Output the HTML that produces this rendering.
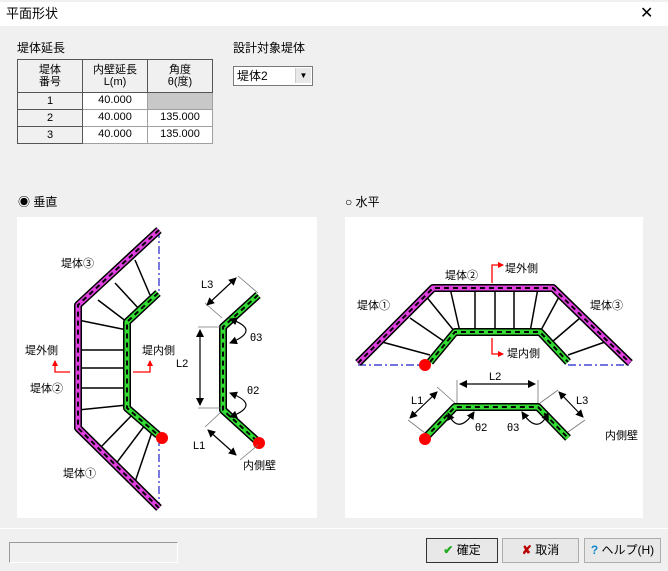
<!DOCTYPE html>
<html><head><meta charset="utf-8"><style>
body{margin:0;width:668px;height:571px;background:#f0f0f0;font-family:"Liberation Sans","Noto Sans CJK JP",sans-serif;font-size:12px;color:#000;position:relative;overflow:hidden;line-height:1.2}
.a{position:absolute}
table{border-collapse:collapse;position:absolute;left:17px;top:59px}
td{border:1px solid #a0a0a0;text-align:center;font-size:11px;padding:0;height:16px;background:#fff}
td.h{background:#f0f0f0;border:1px solid #555;line-height:12px}
.btn{position:absolute;top:538px;height:23px;border:1px solid #adadad;background:#e8e8e8;font-size:12px;line-height:23px;text-align:center}
</style></head><body>
<div class="a" style="left:0;top:2px;width:668px;height:24px;background:#fff"></div>
<div class="a" style="left:6px;top:6px;font-size:13px">平面形状</div>
<div class="a" style="left:640px;top:4px;font-size:16px">✕</div>
<div class="a" style="left:17px;top:41px">堤体延長</div>
<div class="a" style="left:233px;top:41px">設計対象堤体</div>
<table>
<tr><td class="h" style="width:64px;height:32px">堤体<br>番号</td><td class="h" style="width:64px">内壁延長<br>L(m)</td><td class="h" style="width:64px">角度<br>θ(度)</td></tr>
<tr><td class="h">1</td><td>40.000</td><td style="background:#c8c8c8"></td></tr>
<tr><td class="h">2</td><td>40.000</td><td>135.000</td></tr>
<tr><td class="h">3</td><td>40.000</td><td>135.000</td></tr>
</table>
<div class="a" style="left:233px;top:66px;width:78px;height:18px;background:#fff;border:1px solid #7a7a7a"><span style="position:absolute;left:3px;top:2px">堤体2</span><div class="a" style="right:1px;top:1px;width:15px;height:15px;background:#e8e8e8;border-left:1px solid #ccc;text-align:center;font-size:8px;line-height:15px">▼</div></div>
<div class="a" style="left:18px;top:195px">◉ 垂直</div>
<div class="a" style="left:345px;top:195px">○ 水平</div>
<div class="a" style="left:17px;top:217px;width:300px;height:301px;background:#fff"></div>
<div class="a" style="left:345px;top:217px;width:298px;height:301px;background:#fff"></div>
<svg class="a" style="left:0;top:0" width="668" height="571" font-family="Liberation Sans,Noto Sans CJK JP,sans-serif" font-size="11">
<defs><marker id="ar" markerUnits="userSpaceOnUse" markerWidth="8" markerHeight="8" refX="7" refY="4" orient="auto-start-reverse"><path d="M0,0L8,4L0,8z" fill="#000"/></marker>
<marker id="rr" markerUnits="userSpaceOnUse" markerWidth="6" markerHeight="6" refX="5" refY="3" orient="auto"><path d="M0,0L6,3L0,6z" fill="red"/></marker></defs>
<g stroke="#000" stroke-width="1.5">
<line x1="78" y1="320" x2="127" y2="330"/><line x1="78" y1="350" x2="127" y2="350"/><line x1="78" y1="368" x2="127" y2="368"/><line x1="78" y1="388" x2="127" y2="388"/><line x1="78" y1="410" x2="127" y2="405"/>
<line x1="98" y1="300" x2="127" y2="322"/><line x1="115" y1="283" x2="140" y2="310"/><line x1="135" y1="260" x2="150" y2="295"/>
<line x1="100" y1="448" x2="132" y2="415"/><line x1="115" y1="465" x2="145" y2="425"/><line x1="135" y1="482" x2="152" y2="432"/>
<line x1="382" y1="342" x2="430" y2="355"/><line x1="410" y1="318" x2="445" y2="342"/><line x1="425" y1="295" x2="455" y2="332"/>
<line x1="450" y1="288" x2="460" y2="332"/><line x1="475" y1="288" x2="475" y2="332"/><line x1="495" y1="288" x2="495" y2="332"/><line x1="514" y1="288" x2="514" y2="332"/><line x1="538" y1="288" x2="530" y2="332"/>
<line x1="560" y1="295" x2="540" y2="332"/><line x1="580" y1="318" x2="552" y2="342"/><line x1="605" y1="342" x2="568" y2="355"/>
</g>
<g stroke="#2222cc" stroke-width="1.2" stroke-dasharray="8 3 2 3" fill="none">
<line x1="159" y1="230" x2="159" y2="293"/><line x1="159" y1="438" x2="159" y2="508"/>
<line x1="358" y1="365" x2="425" y2="365"/><line x1="568" y1="365" x2="630" y2="365"/>
</g>
<g fill="none" stroke-linejoin="round">
<polyline points="159,230 78,305 78,428 159,508" stroke="#000" stroke-width="8"/>
<polyline points="159,230 78,305 78,428 159,508" stroke="#e040e0" stroke-width="5"/>
<polyline points="159,230 78,305 78,428 159,508" stroke="#000" stroke-width="2" stroke-dasharray="5 4"/>
<polyline points="358,363 433,288 553,288 630,363" stroke="#000" stroke-width="8"/>
<polyline points="358,363 433,288 553,288 630,363" stroke="#e040e0" stroke-width="5"/>
<polyline points="358,363 433,288 553,288 630,363" stroke="#000" stroke-width="2" stroke-dasharray="5 4"/>
<polyline points="158,293 127,322 127,408 158,435" stroke="#000" stroke-width="8"/>
<polyline points="158,293 127,322 127,408 158,435" stroke="#33dd33" stroke-width="5"/>
<polyline points="158,293 127,322 127,408 158,435" stroke="#000" stroke-width="2" stroke-dasharray="5 4"/>
<polyline points="258,295 223,327 223,410 258,442" stroke="#000" stroke-width="8"/>
<polyline points="258,295 223,327 223,410 258,442" stroke="#33dd33" stroke-width="5"/>
<polyline points="258,295 223,327 223,410 258,442" stroke="#000" stroke-width="2" stroke-dasharray="5 4"/>
<polyline points="430,362 455,332 540,332 568,362" stroke="#000" stroke-width="8"/>
<polyline points="430,362 455,332 540,332 568,362" stroke="#33dd33" stroke-width="5"/>
<polyline points="430,362 455,332 540,332 568,362" stroke="#000" stroke-width="2" stroke-dasharray="5 4"/>
<polyline points="425,438 455,407 538,407 568,438" stroke="#000" stroke-width="8"/>
<polyline points="425,438 455,407 538,407 568,438" stroke="#33dd33" stroke-width="5"/>
<polyline points="425,438 455,407 538,407 568,438" stroke="#000" stroke-width="2" stroke-dasharray="5 4"/>
</g>
<g fill="red"><circle cx="162" cy="438" r="6"/><circle cx="259" cy="443" r="6"/><circle cx="425" cy="365" r="6"/><circle cx="425" cy="439" r="6"/></g>
<g stroke="red" stroke-width="1.3" fill="none">
<polyline points="70,372 55,372 55,361" marker-end="url(#rr)"/>
<polyline points="133,372 150,372 150,361" marker-end="url(#rr)"/>
<polyline points="492,283 492,265 503,265" marker-end="url(#rr)"/>
<polyline points="492,338 492,354 503,354" marker-end="url(#rr)"/>
</g>
<g stroke="#777" stroke-width="0.8">
<line x1="198" y1="327" x2="222" y2="327"/><line x1="198" y1="408" x2="222" y2="408"/>
<line x1="222" y1="318" x2="205" y2="303"/><line x1="238" y1="276" x2="258" y2="293"/>
<line x1="220" y1="413" x2="205" y2="427"/><line x1="258" y1="445" x2="240" y2="460"/>
<line x1="457" y1="380" x2="457" y2="403"/><line x1="538" y1="380" x2="538" y2="403"/>
<line x1="437" y1="387" x2="455" y2="403"/><line x1="408" y1="420" x2="425" y2="433"/>
<line x1="540" y1="403" x2="558" y2="390"/><line x1="568" y1="432" x2="585" y2="420"/>
</g>
<g stroke="#000" stroke-width="1.2" fill="none">
<line x1="200" y1="330" x2="200" y2="405" marker-end="url(#ar)" marker-start="url(#ar)"/>
<line x1="207" y1="305" x2="236" y2="278" marker-end="url(#ar)" marker-start="url(#ar)"/>
<line x1="208" y1="430" x2="236" y2="455" marker-end="url(#ar)" marker-start="url(#ar)"/>
<line x1="460" y1="384" x2="535" y2="384" marker-end="url(#ar)" marker-start="url(#ar)"/>
<line x1="410" y1="418" x2="437" y2="392" marker-end="url(#ar)" marker-start="url(#ar)"/>
<line x1="559" y1="392" x2="583" y2="417" marker-end="url(#ar)" marker-start="url(#ar)"/>
<path d="M230,319 Q262,330 230,343" marker-end="url(#ar)" marker-start="url(#ar)"/>
<path d="M230,393 Q262,405 230,417" marker-end="url(#ar)" marker-start="url(#ar)"/>
<path d="M448,413 Q458,436 474,412" marker-end="url(#ar)" marker-start="url(#ar)"/>
<path d="M522,412 Q538,436 548,413" marker-end="url(#ar)" marker-start="url(#ar)"/>
</g>
<g fill="#000">
<text x="61" y="267">堤体③</text><text x="25" y="354">堤外側</text><text x="30" y="392">堤体②</text>
<text x="142" y="354">堤内側</text><text x="63" y="477">堤体①</text>
<text x="201" y="288">L3</text><text x="176" y="367">L2</text><text x="193" y="449">L1</text>
<text x="243" y="469">内側壁</text><text x="250" y="341">θ3</text><text x="247" y="394">θ2</text>
<text x="445" y="279">堤体②</text><text x="505" y="272">堤外側</text><text x="507" y="357">堤内側</text>
<text x="357" y="309">堤体①</text><text x="590" y="309">堤体③</text>
<text x="489" y="380">L2</text><text x="411" y="404">L1</text><text x="576" y="404">L3</text>
<text x="475" y="431">θ2</text><text x="507" y="431">θ3</text><text x="605" y="439">内側壁</text>
</g>
</svg>
<div class="a" style="left:0;top:528px;width:668px;height:1px;background:#fff"></div>
<div class="a" style="left:9px;top:542px;width:167px;height:19px;border-top:1px solid #999;border-left:1px solid #999;border-right:1px solid #fff;border-bottom:1px solid #fff"></div>
<div class="btn" style="left:426px;width:70px;border:1px solid #333"><span style="color:#2a2;font-weight:bold">✔</span> 確定</div>
<div class="btn" style="left:502px;width:75px"><span style="color:#b00;font-weight:bold">✘</span> 取消</div>
<div class="btn" style="left:584px;width:75px"><span style="color:#18c;font-weight:bold">?</span> ヘルプ(H)</div>
</body></html>
